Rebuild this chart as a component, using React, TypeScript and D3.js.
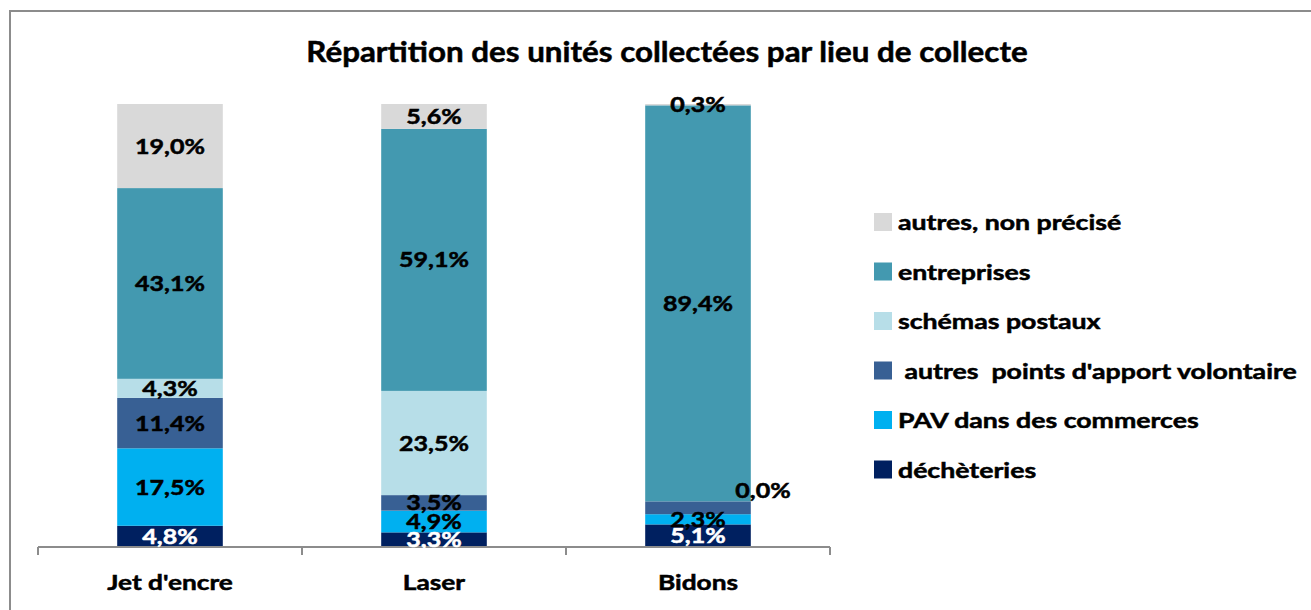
import * as d3 from 'd3'

const categories = ["Jet d'encre", 'Laser', 'Bidons']
const seriesNames = [
  'déchèteries',
  'PAV dans des commerces',
  ' autres  points d\'apport volontaire',
  'schémas postaux',
  'entreprises',
  'autres, non précisé',
]
const dechetteries = [4.8, 3.3, 5.1]
const pavCommerces = [17.5, 4.9, 2.3]
const autresPav = [11.4, 3.5, 2.9]
const schemasPostaux = [4.3, 23.5, 0.0]
const entreprises = [43.1, 59.1, 89.4]
const autresNonPrecise = [19.0, 5.6, 0.3]
const colors = ['#002060', '#00B0F0', '#386094', '#B7DEE8', '#4399B0', '#D9D9D9']
// labels Excel did not show
const hiddenLabels = [[2, 'Bidons']]

const W = 1311
const H = 610
const FONT = 'Lato, "Open Sans", sans-serif'

const allSeries = [dechetteries, pavCommerces, autresPav, schemasPostaux, entreprises, autresNonPrecise]
const rows = categories.map((c, i) => {
  const r: any = { cat: c }
  seriesNames.forEach((s, j) => (r[s] = allSeries[j][i]))
  return r
})

const fmt = (v: number) => v.toFixed(1).replace('.', ',') + '%'

// Calibri-ish look: stretched Lato with a hair of stroke for weight
const Txt = ({ x, y, sx = 1.25, fill = '#000', children, ...rest }: any) => (
  <text
    transform={`translate(${x},${y}) scale(${sx},1)`}
    fontWeight="bold"
    fill={fill}
    stroke={fill}
    strokeWidth={0.5}
    {...rest}
  >
    {children}
  </text>
)

export default function App() {
  const x = d3.scaleBand().domain(categories).range([38, 830]).paddingInner(0.6).paddingOuter(0.3)
  const y = d3.scaleLinear().domain([0, 1]).range([547, 104])
  const stacked = d3.stack<any>().keys(seriesNames).offset(d3.stackOffsetExpand)(rows)
  const step = x.step()
  const tickXs = d3.range(categories.length + 1).map((i) => 38 + i * step)

  const legendItems = seriesNames.map((s, i) => ({ s, c: colors[i] })).reverse()

  return (
    <svg width={W} height={H} style={{ position: 'absolute', left: 0, top: 0 }} fontFamily={FONT}>
      <rect x={0} y={0} width={W} height={H} fill="white" />
      <rect x={10} y={11} width={W + 20} height={H + 20} fill="none" stroke="#8c8c8c" strokeWidth={2} />
      <Txt x={667} y={62} sx={1.12} textAnchor="middle" fontSize={28}>
        Répartition des unités collectées par lieu de collecte
      </Txt>

      {stacked.map((layer, j) => (
        <g key={layer.key} fill={colors[j]}>
          {layer.map((d: any) => (
            <rect
              key={d.data.cat}
              x={x(d.data.cat)}
              y={y(d[1])}
              width={x.bandwidth()}
              height={y(d[0]) - y(d[1])}
            />
          ))}
        </g>
      ))}

      <g stroke="#8c8c8c" strokeWidth={2}>
        <line x1={38} x2={830} y1={547} y2={547} />
        {tickXs.map((t) => (
          <line key={t} x1={t} x2={t} y1={547} y2={555} />
        ))}
      </g>

      {stacked.map((layer, j) =>
        layer.map((d: any) => {
          if (hiddenLabels.some(([k, c]) => k === j && c === d.data.cat)) return null
          const v = allSeries[j][categories.indexOf(d.data.cat)]
          const cx = (x(d.data.cat) as number) + x.bandwidth() / 2
          const cy = (y(d[0]) + y(d[1])) / 2
          const zero = v === 0
          return (
            <Txt
              key={layer.key + d.data.cat}
              x={zero ? cx + 65 : cx}
              y={zero ? cy - 11 : cy}
              textAnchor="middle"
              dominantBaseline="central"
              fontSize={20}
              fill={j === 0 ? '#fff' : '#000'}
            >
              {fmt(v)}
            </Txt>
          )
        }),
      )}

      {categories.map((c) => (
        <Txt key={c} x={(x(c) as number) + x.bandwidth() / 2} y={590} textAnchor="middle" fontSize={21}>
          {c}
        </Txt>
      ))}

      {legendItems.map((it, i) => {
        const ly = 222 + i * 49.5
        return (
          <g key={it.s}>
            <rect x={874} y={ly - 9} width={18} height={18} fill={it.c} />
            <Txt x={898} y={ly} sx={1.27} dominantBaseline="central" fontSize={21} style={{ whiteSpace: 'pre' }}>
              {it.s}
            </Txt>
          </g>
        )
      })}
    </svg>
  )
}
